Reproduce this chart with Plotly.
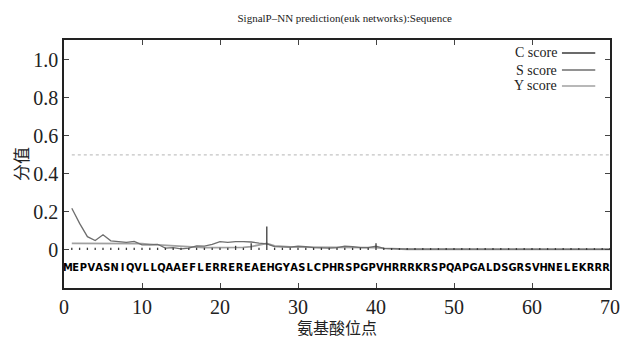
import plotly.graph_objects as go

positions = list(range(1, 71))
sequence = list("MEPVASNIQVLLQAAEFLERREREAEHGYASLCPHRSPGPVHRRRKRSPQAPGALDSGRSVHNELEKRRR")

c_score = [0.012, 0.012, 0.012, 0.012, 0.012, 0.012, 0.012, 0.012, 0.012, 0.012,
           0.012, 0.012, 0.012, 0.012, 0.012, 0.012, 0.012, 0.012, 0.012, 0.012,
           0.012, 0.022, 0.012, 0.035, 0.012, 0.123, 0.012, 0.012, 0.012, 0.012,
           0.012, 0.012, 0.012, 0.012, 0.012, 0.012, 0.012, 0.012, 0.012, 0.035,
           0.012, 0.010, 0.010, 0.010, 0.010, 0.010, 0.010, 0.010, 0.010, 0.010,
           0.010, 0.010, 0.010, 0.010, 0.010, 0.010, 0.010, 0.010, 0.010, 0.010,
           0.010, 0.010, 0.010, 0.010, 0.010, 0.010, 0.010, 0.010, 0.010, 0.010]

s_score = [0.220, 0.140, 0.070, 0.050, 0.080, 0.048, 0.044, 0.040, 0.045, 0.027,
           0.027, 0.030, 0.010, 0.012, 0.006, 0.010, 0.022, 0.020, 0.030, 0.044,
           0.040, 0.044, 0.044, 0.042, 0.036, 0.032, 0.018, 0.018, 0.015, 0.020,
           0.018, 0.012, 0.010, 0.010, 0.012, 0.020, 0.018, 0.012, 0.012, 0.020,
           0.008, 0.006, 0.006, 0.005, 0.005, 0.005, 0.005, 0.005, 0.005, 0.005,
           0.005, 0.005, 0.005, 0.005, 0.005, 0.005, 0.005, 0.005, 0.005, 0.005,
           0.004, 0.004, 0.004, 0.004, 0.004, 0.004, 0.004, 0.004, 0.004, 0.004]

y_score = [0.035, 0.035, 0.035, 0.035, 0.035, 0.035, 0.035, 0.035, 0.035, 0.033,
           0.030, 0.027, 0.025, 0.022, 0.018, 0.016, 0.014, 0.012, 0.012, 0.012,
           0.012, 0.013, 0.014, 0.018, 0.026, 0.035, 0.022, 0.018, 0.016, 0.015,
           0.015, 0.013, 0.012, 0.012, 0.012, 0.012, 0.012, 0.012, 0.012, 0.012,
           0.008, 0.006, 0.005, 0.004, 0.004, 0.004, 0.004, 0.004, 0.004, 0.004,
           0.004, 0.004, 0.004, 0.004, 0.004, 0.004, 0.004, 0.004, 0.004, 0.003,
           0.003, 0.003, 0.003, 0.003, 0.003, 0.003, 0.003, 0.003, 0.003, 0.003]

threshold = 0.5
letter_y = -0.095

x_ticks = [0, 10, 20, 30, 40, 50, 60, 70]
y_ticks = [0, 0.2, 0.4, 0.6, 0.8, 1.0]
y_ticktext = ["0", "0.2", "0.4", "0.6", "0.8", "1.0"]

legend_names = ["C score", "S score", "Y score"]
c_color = "#3a3a3a"
s_color = "#6e6e6e"
y_color = "#a0a0a0"
legend_colors = [c_color, s_color, y_color]

serif = "Liberation Serif, Times New Roman, DejaVu Serif, serif"

fig = go.Figure()

# threshold dotted line
fig.add_trace(go.Scatter(x=[positions[0], positions[-1]], y=[threshold, threshold],
                         mode="lines", line=dict(color="#c4c4c4", width=1.2, dash="dot"),
                         showlegend=False, hoverinfo="skip"))

# Y score
fig.add_trace(go.Scatter(x=positions, y=y_score, mode="lines",
                         line=dict(color=y_color, width=1.8), showlegend=False))
# S score
fig.add_trace(go.Scatter(x=positions, y=s_score, mode="lines",
                         line=dict(color=s_color, width=1.3), showlegend=False))

# C score impulses
cx, cy = [], []
for p, v in zip(positions, c_score):
    cx += [p, p, None]
    cy += [0, v, None]
fig.add_trace(go.Scatter(x=cx, y=cy, mode="lines",
                         line=dict(color=c_color, width=1.3), showlegend=False))

# sequence letters
fig.add_trace(go.Scatter(x=[p - 0.5 for p in positions], y=[letter_y] * len(positions),
                         mode="text", text=sequence,
                         textfont=dict(family="Liberation Sans Narrow, DejaVu Sans Condensed, sans-serif",
                                       weight="bold", size=11, color="#000000"),
                         showlegend=False, hoverinfo="skip"))

# custom legend (text left, line right)
leg_y = [0.948, 0.879, 0.815]
for name, col, ly in zip(legend_names, legend_colors, leg_y):
    fig.add_annotation(x=0.906, y=ly, xref="paper", yref="paper", text=name,
                       showarrow=False, xanchor="right", yanchor="middle",
                       font=dict(family=serif, size=14, color="#222222"))
    fig.add_shape(type="line", xref="paper", yref="paper", x0=0.912, x1=0.973,
                  y0=ly, y1=ly, line=dict(color=col, width=1.5))

fig.update_layout(
    width=629, height=339,
    margin=dict(l=64, r=9, t=40, b=51),
    paper_bgcolor="white", plot_bgcolor="white",
    title=dict(text="SignalP\u2013NN prediction(euk networks):Sequence",
               x=0.548, xanchor="center", y=1 - 18 / 339, yanchor="middle",
               yref="container",
               font=dict(family=serif, size=11, color="#222222")),
    xaxis=dict(range=[0, 70], tickvals=x_ticks, ticks="inside", ticklen=5,
               showline=True, linecolor="#222222", linewidth=1.5, mirror="ticks",
               showgrid=False, zeroline=False,
               tickfont=dict(family=serif, size=20, color="#222222"),
               title=dict(text="氨基酸位点", standoff=0,
                          font=dict(family="Noto Sans CJK SC", size=16, color="#222222"))),
    yaxis=dict(range=[-0.2, 1.105], tickvals=y_ticks, ticktext=y_ticktext,
               ticks="inside", ticklen=5,
               showline=True, linecolor="#222222", linewidth=1.5, mirror="ticks",
               showgrid=False, zeroline=False,
               tickfont=dict(family=serif, size=20, color="#222222"),
               title=dict(text="分值", standoff=0,
                          font=dict(family="Noto Sans CJK SC", size=17, color="#222222"))),
)

fig.write_html("out.html")
